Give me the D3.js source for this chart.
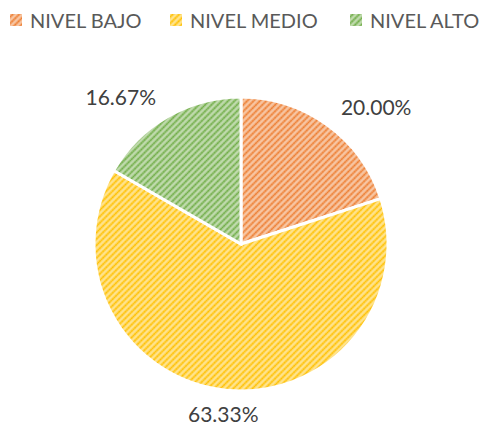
<!DOCTYPE html>
<html>
<head>
<meta charset="utf-8">
<script src="https://cdn.jsdelivr.net/npm/d3@7"></script>
<style>
  body { margin: 0; background: #fff; }
</style>
</head>
<body>
<div class="chart"></div>
<script>
const categories = ['NIVEL BAJO', 'NIVEL MEDIO', 'NIVEL ALTO'];
const values = [20.00, 63.33, 16.67];
const labels = ['20.00%', '63.33%', '16.67%'];
const colors = ['#ED7D31', '#FFC000', '#70AD47'];

const width = 486, height = 430;
const cx = 241, cy = 244, radius = 147;

const svg = d3.select('.chart')
  .append('svg')
  .attr('width', width)
  .attr('height', height)
  .style('font-family', 'Lato, "Open Sans", sans-serif');

// hatched dotted fill like the office pattern
const defs = svg.append('defs');
colors.forEach((c, i) => {
  const p = defs.append('pattern')
    .attr('id', 'pat' + i)
    .attr('patternUnits', 'userSpaceOnUse')
    .attr('width', 4.5)
    .attr('height', 4.5)
    .attr('patternTransform', 'rotate(-45)');
  p.append('rect')
    .attr('width', 4.5).attr('height', 4.5)
    .attr('fill', d3.interpolateRgb(c, '#fff')(0.55));
  p.append('line')
    .attr('x1', 0).attr('y1', 2.25).attr('x2', 4.5).attr('y2', 2.25)
    .attr('stroke', c)
    .attr('stroke-width', 2)
    .attr('stroke-dasharray', '2 0.25');
});

const pie = d3.pie().sort(null).value(d => d);
const arcs = pie(values);

const arc = d3.arc().innerRadius(0).outerRadius(radius);

const g = svg.append('g').attr('transform', `translate(${cx},${cy})`);

g.selectAll('.slice')
  .data(arcs)
  .enter()
  .append('path')
  .attr('class', 'slice')
  .attr('d', arc)
  .attr('fill', (d, i) => `url(#pat${i})`)
  .attr('stroke', '#fff')
  .attr('stroke-width', 3)
  .attr('stroke-linejoin', 'miter');

const labelR = 170;
g.selectAll('.lbl')
  .data(arcs)
  .enter()
  .append('text')
  .attr('class', 'lbl')
  .attr('x', d => Math.sin((d.startAngle + d.endAngle) / 2) * labelR)
  .attr('y', d => -Math.cos((d.startAngle + d.endAngle) / 2) * labelR)
  .attr('text-anchor', d => {
    const s = Math.sin((d.startAngle + d.endAngle) / 2);
    return Math.abs(s) < 0.2 ? 'middle' : (s > 0 ? 'start' : 'end');
  })
  .attr('dominant-baseline', 'central')
  .attr('fill', '#404040')
  .style('font-size', '21px')
  .text((d, i) => labels[i]);

// legend
const legendX = [10, 170, 350];
const legend = svg.selectAll('.leg')
  .data(categories)
  .enter()
  .append('g')
  .attr('class', 'leg')
  .attr('transform', (d, i) => `translate(${legendX[i]},14)`);

legend.append('rect')
  .attr('width', 12)
  .attr('height', 12)
  .attr('fill', (d, i) => `url(#pat${i})`);

legend.append('text')
  .attr('x', 20)
  .attr('y', 6)
  .attr('dominant-baseline', 'central')
  .attr('fill', '#595959')
  .style('font-size', '20px')
  .text(d => d);
</script>
</body>
</html>
